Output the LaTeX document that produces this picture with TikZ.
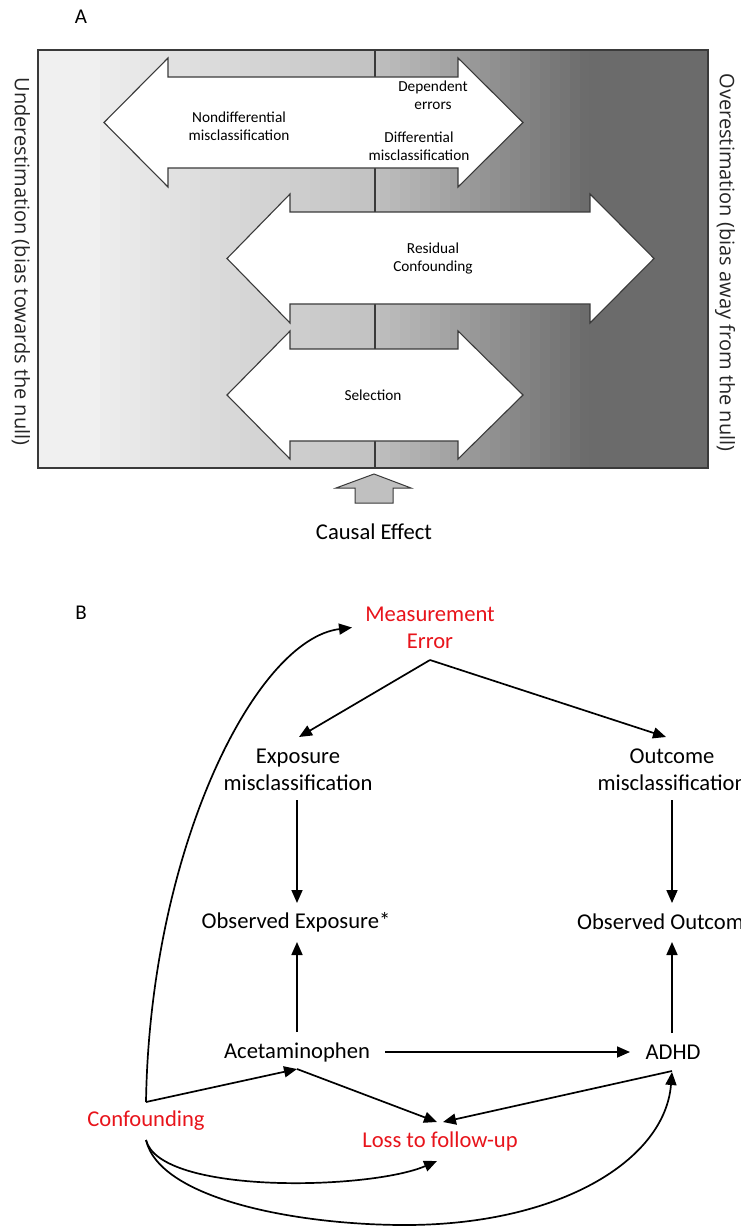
\documentclass[tikz,border=0pt]{standalone}
\usepackage{fontspec}
\setmainfont{Carlito}
\newfontfamily\osans{Open Sans}
\usetikzlibrary{arrows.meta,calc}
\definecolor{edgec}{HTML}{3A3A3A}
\definecolor{redc}{HTML}{E8141B}
\definecolor{causalc}{HTML}{C0C0C0}
\tikzset{
  biasarrow/.style={fill=white,draw=edgec,line width=1.1pt,line join=miter},
  smalllab/.style={font=\fontsize{15.3}{18}\selectfont,align=center,inner sep=0pt},
  sidelab/.style={font=\osans\fontsize{20}{24}\selectfont,rotate=-90,inner sep=0pt,text=black!85},
  dagnode/.style={font=\fontsize{22.6}{27}\selectfont,align=center,inner sep=0pt},
  rednode/.style={dagnode,text=redc},
  dagarrow/.style={line width=1.7pt,-{Triangle[length=13pt,width=11pt]}},
  panellab/.style={font=\fontsize{21}{24}\selectfont,inner sep=0pt}
}
\begin{document}
\begin{tikzpicture}[x=1pt,y=-1pt]
\useasboundingbox (0,0) rectangle (740,1228);
\clip (0,0) rectangle (740,1228);
\fill[white] (0,0) rectangle (740,1228);

% ---------- Panel A ----------
\node[panellab] (labA) at (81,17) {A};

% banded gradient background
\definecolor{bandc}{gray}{0.94}
\fill[bandc] (38,50) rectangle (101,468);
\foreach \i in {0,...,48}{
  \pgfmathsetmacro\xa{100+10*\i}
  \pgfmathsetmacro\xc{\xa+5}
  \pgfmathsetmacro\g{\xc<370 ? 0.93-(\xc-100)*0.00063 : max(0.42,0.76-(\xc-370)*0.00155)}
  \definecolor{bandc}{gray}{\g}
  \fill[bandc] (\xa,50) rectangle (\xa+10.4,468);
}
\definecolor{bandc}{gray}{0.42}
\fill[bandc] (589,50) rectangle (708,468);
\draw[edgec,line width=1.2pt] (38,50) rectangle (708,468);
\draw[edgec,line width=1.1pt] (375,50) -- (375,468);

% double arrows
\draw[biasarrow] (104,122.5) -- (168,58) -- (168,77) -- (458,77) -- (458,58) -- (523,122.5)
  -- (458,187) -- (458,168) -- (168,168) -- (168,187) -- cycle;
\draw[biasarrow] (227,258.5) -- (290,194) -- (290,212) -- (590,212) -- (590,194) -- (654,258.5)
  -- (590,323) -- (590,304) -- (290,304) -- (290,323) -- cycle;
\draw[biasarrow] (227,395) -- (290,331) -- (290,349) -- (458,349) -- (458,331) -- (523,395)
  -- (458,459) -- (458,441) -- (290,441) -- (290,459) -- cycle;

\node[smalllab] (nondiff) at (239,126) {Nondifferential\\misclassification};
\node[smalllab] (deperr) at (433,95.5) {Dependent\\errors};
\node[smalllab] (diff) at (419,146) {Differential\\misclassification};
\node[smalllab] (resid) at (433,258.5) {Residual\\Confounding};
\node[smalllab] (sel) at (373,395) {Selection};

\node[sidelab] (under) at (21,261.5) {Underestimation (bias towards the null)};
\node[sidelab] (over) at (725,262.5) {Overestimation (bias away from the null)};

% causal effect block arrow
\draw[fill=causalc,draw=edgec,line width=1pt] (374,474) -- (411,488) -- (393,488) -- (393,503)
  -- (355,503) -- (355,488) -- (336,488) -- cycle;
\node[dagnode] (causal) at (374,532) {Causal Effect};

% ---------- Panel B ----------
\node[panellab] (labB) at (81,613) {B};

\node[rednode] (me) at (430,627.5) {Measurement\\Error};
\node[dagnode] (expm) at (298,769.5) {Exposure\\misclassification};
\node[dagnode] (outm) at (672,769.5) {Outcome\\misclassification};
\node[dagnode] (obsE) at (296,922) {Observed Exposure*};
\node[dagnode,anchor=west] (obsO) at (577,922) {Observed Outcome};
\node[dagnode] (acet) at (297,1052) {Acetaminophen};
\node[dagnode] (adhd) at (673,1052) {ADHD};
\node[rednode] (conf) at (146,1121) {Confounding};
\node[rednode] (loss) at (440,1141) {Loss to follow-up};

\draw[dagarrow] ($(me)+(0,32.5)$) -- ($(expm)+(1,-32.5)$);
\draw[dagarrow] ($(me)+(0,32.5)$) -- ($(outm)+(-6,-32.5)$);
\draw[dagarrow] ($(expm)+(-1,30.5)$) -- ($(obsE)+(1,-19)$);
\draw[dagarrow] ($(outm)+(0,30.5)$) -- ($(adhd)+(-1,-149)$);
\draw[dagarrow] ($(acet)+(0,-20)$) -- ($(obsE)+(1,20)$);
\draw[dagarrow] ($(adhd)+(-1,-19)$) -- ($(adhd)+(-1,-110)$);
\draw[dagarrow] ($(acet)+(88,0)$) -- ($(adhd)+(-43,0)$);
\draw[dagarrow] ($(conf)+(0,-19)$) -- ($(acet)+(0,17)$);
\draw[dagarrow] ($(acet)+(0,17)$) -- ($(loss)+(-3,-19)$);
\draw[dagarrow] ($(adhd)+(-1,19)$) -- ($(loss)+(3,-19)$);
\draw[dagarrow] ($(conf)+(0,-19)$) .. controls ($(conf)+(4,-271)$) and ($(me)+(-175,12)$) .. ($(me)+(-78,0)$);
\draw[dagarrow] ($(conf)+(0,19)$) .. controls ($(conf)+(14,74)$) and ($(loss)+(-70,49)$) .. ($(loss)+(-3,20)$);
\draw[dagarrow] ($(conf)+(0,19)$) .. controls ($(conf)+(14,79)$) and ($(conf)+(154,104)$) .. ($(conf)+(259,104)$)
  .. controls ($(conf)+(414,104)$) and ($(adhd)+(-8,108)$) .. ($(adhd)+(-1,20)$);
\end{tikzpicture}
\end{document}
